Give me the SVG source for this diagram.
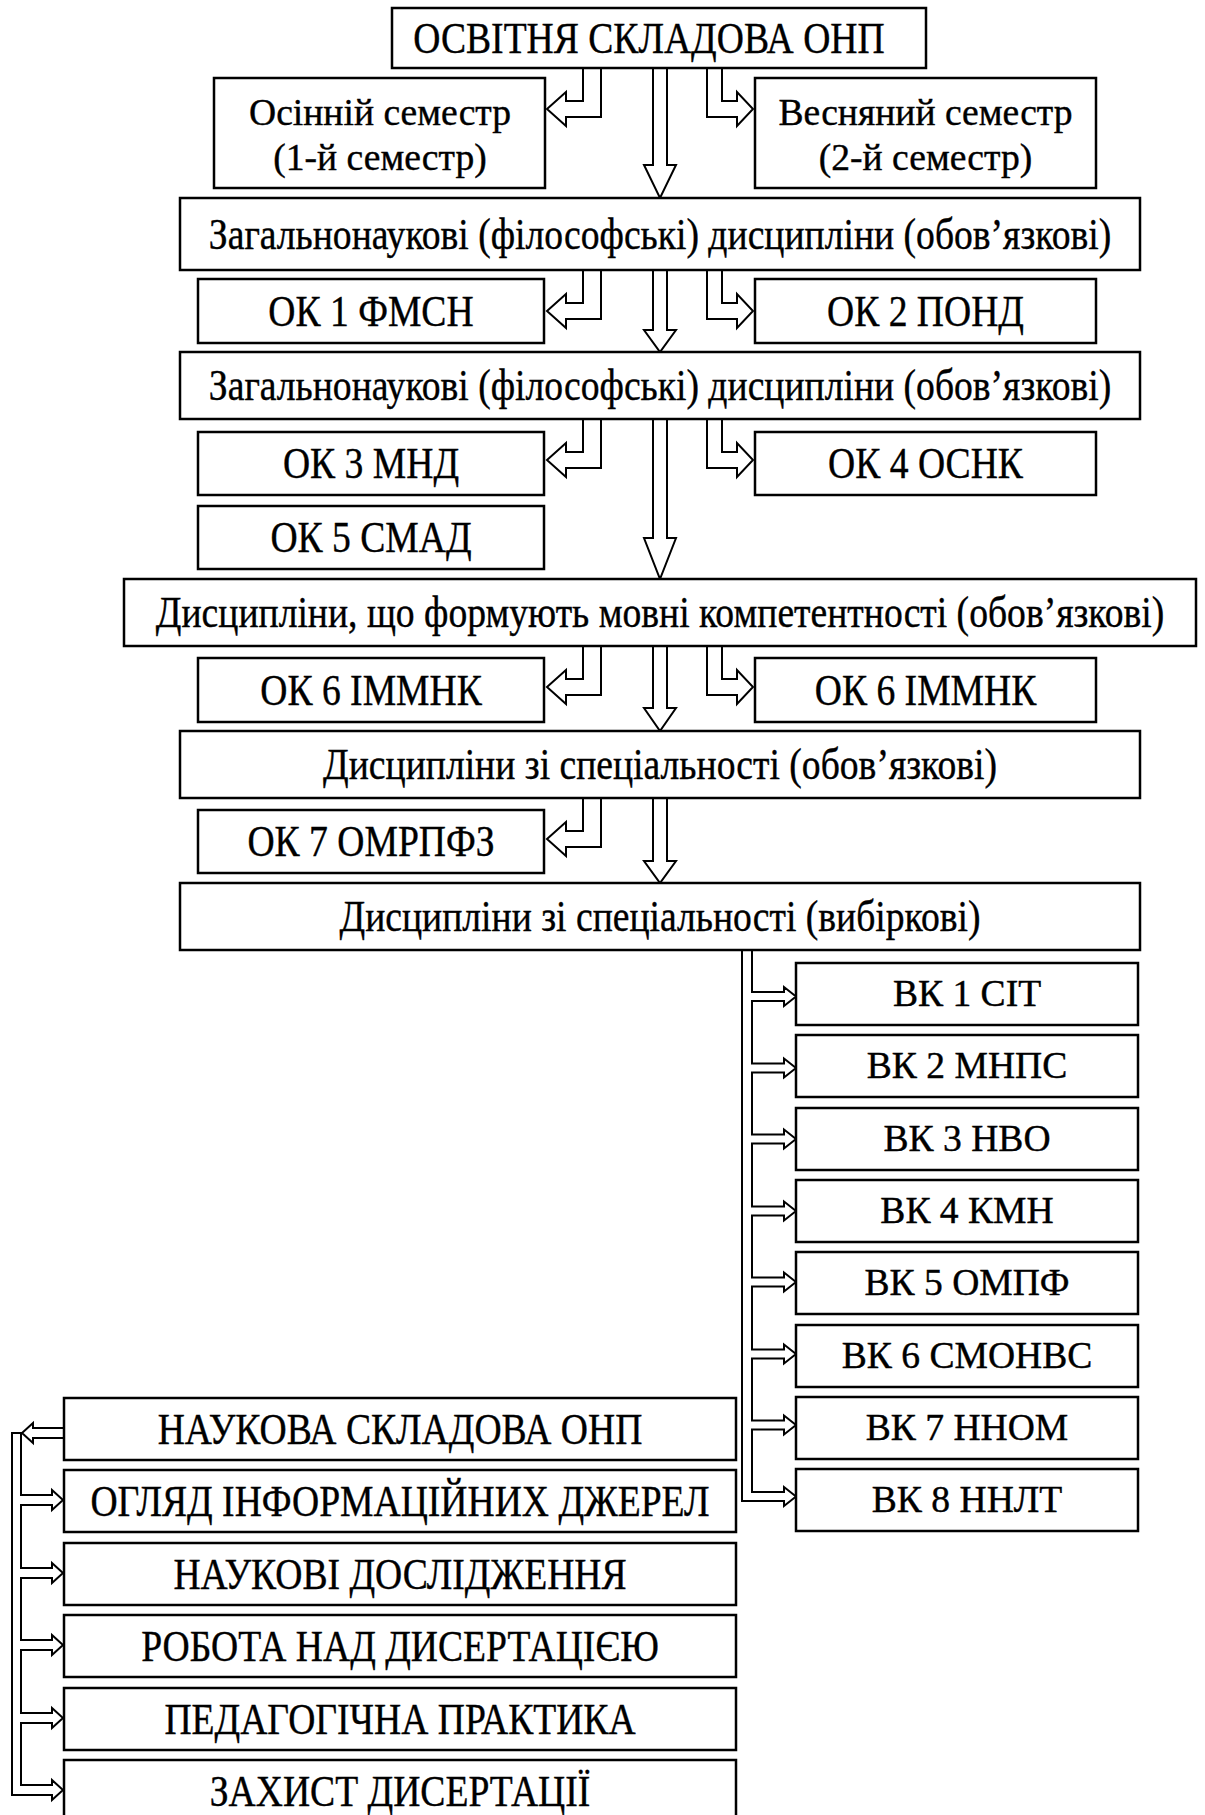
<svg xmlns="http://www.w3.org/2000/svg" width="1205" height="1815" viewBox="0 0 1205 1815">
<style>
.box{fill:#fff;stroke:#000;stroke-width:2.5}
.t{font-family:"Liberation Serif","Times New Roman",serif;font-size:37.6px;text-anchor:middle;fill:#000;stroke:#000;stroke-width:0.4}
.c{font-family:"Liberation Serif","Times New Roman",serif;font-size:44px;text-anchor:middle;fill:#000;stroke:#000;stroke-width:0.4}
.arr{fill:#fff;stroke:#000;stroke-width:2;stroke-linejoin:miter}
</style>
<rect width="1205" height="1815" fill="#fff"/>
<g id="connectors">
<polyline class="arr" points="653,68 653,165 644,165 660,198 676,165 667,165 667,68"/>
<polyline class="arr" points="583,68 583,101 566,101 566,92 547,109 566,126 566,117 601,117 601,68"/>
<polyline class="arr" points="722,68 722,101 737,101 737,92 753,109 737,126 737,117 707,117 707,68"/>
<polyline class="arr" points="653,270 653,330 644,330 660,352 676,330 667,330 667,270"/>
<polyline class="arr" points="583,270 583,303 566,303 566,294 547,311 566,328 566,319 601,319 601,270"/>
<polyline class="arr" points="722,270 722,303 737,303 737,294 753,311 737,328 737,319 707,319 707,270"/>
<polyline class="arr" points="653,419 653,538 644,538 660,579 676,538 667,538 667,419"/>
<polyline class="arr" points="583,419 583,452 566,452 566,443 547,460 566,477 566,468 601,468 601,419"/>
<polyline class="arr" points="722,419 722,452 737,452 737,443 753,460 737,477 737,468 707,468 707,419"/>
<polyline class="arr" points="653,646 653,708 644,708 660,731 676,708 667,708 667,646"/>
<polyline class="arr" points="583,646 583,679 566,679 566,670 547,687 566,704 566,695 601,695 601,646"/>
<polyline class="arr" points="722,646 722,679 737,679 737,670 753,687 737,704 737,695 707,695 707,646"/>
<polyline class="arr" points="653,798 653,861 644,861 660,883 676,861 667,861 667,798"/>
<polyline class="arr" points="583,798 583,831 566,831 566,822 547,839 566,856 566,847 601,847 601,798"/>
<polyline class="arr" points="752,950 752,992 784,992 784,987 796,996.5 784,1006 784,1001 752,1001 752,1063.5 784,1063.5 784,1058.5 796,1068 784,1077.5 784,1072.5 752,1072.5 752,1134.5 784,1134.5 784,1129.5 796,1139 784,1148.5 784,1143.5 752,1143.5 752,1206.5 784,1206.5 784,1201.5 796,1211 784,1220.5 784,1215.5 752,1215.5 752,1277.5 784,1277.5 784,1272.5 796,1282 784,1291.5 784,1286.5 752,1286.5 752,1349.5 784,1349.5 784,1344.5 796,1354 784,1363.5 784,1358.5 752,1358.5 752,1420.5 784,1420.5 784,1415.5 796,1425 784,1434.5 784,1429.5 752,1429.5 752,1492 784,1492 784,1487 796,1496.5 784,1506 784,1501 742,1501 742,950"/>
<polyline class="arr" points="64,1428 33,1428 33,1423 22,1433 33,1443 33,1438 64,1438"/>
<polygon class="arr" points="12,1433 21,1433 21,1495 52,1495 52,1490 63,1500 52,1510 52,1505 21,1505 21,1568 52,1568 52,1563 63,1573 52,1583 52,1578 21,1578 21,1640 52,1640 52,1635 63,1645 52,1655 52,1650 21,1650 21,1713 52,1713 52,1708 63,1718 52,1728 52,1723 21,1723 21,1785 52,1785 52,1780 63,1790 52,1800 52,1795 12,1795"/>
</g>
<g id="n-top"><rect class="box" x="392" y="8" width="534" height="60"/><text class="c" transform="translate(649 0) scale(0.855 1)" y="53">ОСВІТНЯ СКЛАДОВА ОНП</text></g>
<g id="n-autumn"><rect class="box" x="214" y="78" width="331" height="110"/><text class="t" x="380" y="125">Осінній семестр</text><text class="t" x="380" y="170">(1-й семестр)</text></g>
<g id="n-spring"><rect class="box" x="755" y="78" width="341" height="110"/><text class="t" x="925.5" y="125">Весняний семестр</text><text class="t" x="925.5" y="170">(2-й семестр)</text></g>
<g id="n-zag1"><rect class="box" x="180" y="198" width="960" height="72"/><text class="c" transform="translate(660 0) scale(0.855 1)" y="249">Загальнонаукові (філософські) дисципліни (обов’язкові)</text></g>
<g id="n-ok1"><rect class="box" x="198" y="279" width="346" height="64"/><text class="c" transform="translate(371 0) scale(0.855 1)" y="326">ОК 1 ФМСН</text></g>
<g id="n-ok2"><rect class="box" x="755" y="279" width="341" height="64"/><text class="c" transform="translate(925.5 0) scale(0.855 1)" y="326">ОК 2 ПОНД</text></g>
<g id="n-zag2"><rect class="box" x="180" y="352" width="960" height="67"/><text class="c" transform="translate(660 0) scale(0.855 1)" y="400">Загальнонаукові (філософські) дисципліни (обов’язкові)</text></g>
<g id="n-ok3"><rect class="box" x="198" y="432" width="346" height="63"/><text class="c" transform="translate(371 0) scale(0.855 1)" y="478">ОК 3 МНД</text></g>
<g id="n-ok4"><rect class="box" x="755" y="432" width="341" height="63"/><text class="c" transform="translate(925.5 0) scale(0.855 1)" y="478">ОК 4 ОСНК</text></g>
<g id="n-ok5"><rect class="box" x="198" y="506" width="346" height="63"/><text class="c" transform="translate(371 0) scale(0.855 1)" y="552">ОК 5 СМАД</text></g>
<g id="n-lang"><rect class="box" x="124" y="579" width="1072" height="67"/><text class="c" transform="translate(660 0) scale(0.855 1)" y="627">Дисципліни, що формують мовні компетентності (обов’язкові)</text></g>
<g id="n-ok6a"><rect class="box" x="198" y="658" width="346" height="64"/><text class="c" transform="translate(371 0) scale(0.855 1)" y="705">ОК 6 ІММНК</text></g>
<g id="n-ok6b"><rect class="box" x="755" y="658" width="341" height="64"/><text class="c" transform="translate(925.5 0) scale(0.855 1)" y="705">ОК 6 ІММНК</text></g>
<g id="n-spec-req"><rect class="box" x="180" y="731" width="960" height="67"/><text class="c" transform="translate(660 0) scale(0.855 1)" y="779">Дисципліни зі спеціальності (обов’язкові)</text></g>
<g id="n-ok7"><rect class="box" x="198" y="810" width="346" height="63"/><text class="c" transform="translate(371 0) scale(0.855 1)" y="856">ОК 7 ОМРПФЗ</text></g>
<g id="n-spec-opt"><rect class="box" x="180" y="883" width="960" height="67"/><text class="c" transform="translate(660 0) scale(0.855 1)" y="931">Дисципліни зі спеціальності (вибіркові)</text></g>
<g id="n-vk1"><rect class="box" x="796" y="963" width="342" height="62"/><text class="t" x="967" y="1006">ВК 1 СІТ</text></g>
<g id="n-vk2"><rect class="box" x="796" y="1035" width="342" height="62"/><text class="t" x="967" y="1078">ВК 2 МНПС</text></g>
<g id="n-vk3"><rect class="box" x="796" y="1108" width="342" height="62"/><text class="t" x="967" y="1151">ВК 3 НВО</text></g>
<g id="n-vk4"><rect class="box" x="796" y="1180" width="342" height="62"/><text class="t" x="967" y="1223">ВК 4 КМН</text></g>
<g id="n-vk5"><rect class="box" x="796" y="1252" width="342" height="62"/><text class="t" x="967" y="1295">ВК 5 ОМПФ</text></g>
<g id="n-vk6"><rect class="box" x="796" y="1325" width="342" height="62"/><text class="t" x="967" y="1368">ВК 6 СМОНВС</text></g>
<g id="n-vk7"><rect class="box" x="796" y="1397" width="342" height="62"/><text class="t" x="967" y="1440">ВК 7 ННОМ</text></g>
<g id="n-vk8"><rect class="box" x="796" y="1469" width="342" height="62"/><text class="t" x="967" y="1512">ВК 8 ННЛТ</text></g>
<g id="n-sci"><rect class="box" x="64" y="1398" width="672" height="62"/><text class="c" transform="translate(400 0) scale(0.855 1)" y="1444">НАУКОВА СКЛАДОВА ОНП</text></g>
<g id="n-review"><rect class="box" x="64" y="1470" width="672" height="62"/><text class="c" transform="translate(400 0) scale(0.855 1)" y="1516">ОГЛЯД ІНФОРМАЦІЙНИХ ДЖЕРЕЛ</text></g>
<g id="n-research"><rect class="box" x="64" y="1543" width="672" height="62"/><text class="c" transform="translate(400 0) scale(0.855 1)" y="1589">НАУКОВІ ДОСЛІДЖЕННЯ</text></g>
<g id="n-thesis"><rect class="box" x="64" y="1615" width="672" height="62"/><text class="c" transform="translate(400 0) scale(0.855 1)" y="1661">РОБОТА НАД ДИСЕРТАЦІЄЮ</text></g>
<g id="n-practice"><rect class="box" x="64" y="1688" width="672" height="62"/><text class="c" transform="translate(400 0) scale(0.855 1)" y="1734">ПЕДАГОГІЧНА ПРАКТИКА</text></g>
<g id="n-defense"><rect class="box" x="64" y="1760" width="672" height="64"/><text class="c" transform="translate(400 0) scale(0.855 1)" y="1806">ЗАХИСТ ДИСЕРТАЦІЇ</text></g>
</svg>
